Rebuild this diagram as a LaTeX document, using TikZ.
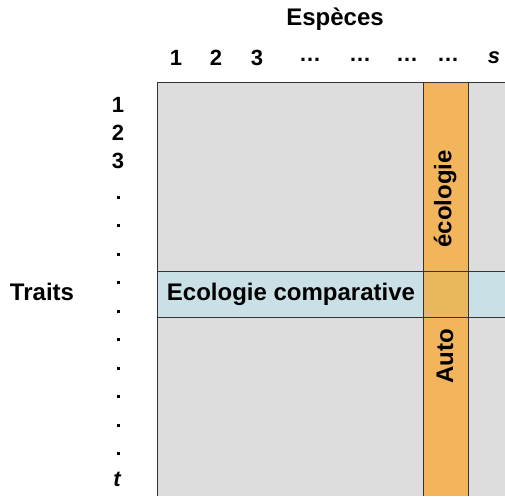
\documentclass[tikz,border=0pt]{standalone}
\usepackage{fontspec}
\setmainfont{Liberation Sans}
\definecolor{cellgray}{HTML}{DCDDDC}
\definecolor{colorange}{HTML}{F2B55C}
\definecolor{rowblue}{HTML}{C9E1E6}
\definecolor{overlap}{HTML}{E8B75E}
\definecolor{edge}{HTML}{333333}
\begin{document}
\begin{tikzpicture}[x=1pt,y=-1pt,
  lab/.style={font=\bfseries\fontsize{22}{22}\selectfont, inner sep=0pt, anchor=center},
  big/.style={font=\bfseries\fontsize{24}{24}\selectfont, inner sep=0pt, anchor=center}]
\useasboundingbox (0,0) rectangle (505,496);
% background grid
\fill[cellgray] (157,82) rectangle (505,496);
\fill[colorange] (423,82) rectangle (468,496);
\fill[rowblue] (157,271) rectangle (505,317);
\fill[overlap] (423,271) rectangle (468,317);
\draw[edge, line width=1pt] (505,82) -- (157,82) -- (157,496);
\draw[edge, line width=1pt] (423,82) -- (423,496);
\draw[edge, line width=1pt] (468,82) -- (468,496);
\draw[edge, line width=1pt] (157,271) -- (505,271);
\draw[edge, line width=1pt] (157,317) -- (505,317);
% titles
\node[big] (esp) at (335,19) {Espèces};
\node[big] (traits) at (42,292) {Traits};
% column labels
\node[lab] (c1) at (176,58) {1};
\node[lab] (c2) at (216,58) {2};
\node[lab] (c3) at (257,58) {3};
\node[lab] (c4) at (310,60) {…};
\node[lab] (c5) at (360,60) {…};
\node[lab] (c6) at (407,60) {…};
\node[lab] (c7) at (448,60) {…};
\node[lab] (cs) at (494,58) {\itshape s};
% row labels
\node[lab] (r1) at (118,105) {1};
\node[lab] (r2) at (118,133) {2};
\node[lab] (r3) at (118,161) {3};
\foreach \i in {0,...,9}
  \fill ({116.5},{195.5+28.5*\i}) rectangle ++(3,3);
\node[lab] (rt) at (117,479) {\itshape t};
% inner labels
\node[big] (comp) at (291,294) {Ecologie comparative};
\node[big, rotate=90] (eco) at (445,199) {écologie};
\node[big, rotate=90] (auto) at (445,356) {Auto};
\end{tikzpicture}
\end{document}
